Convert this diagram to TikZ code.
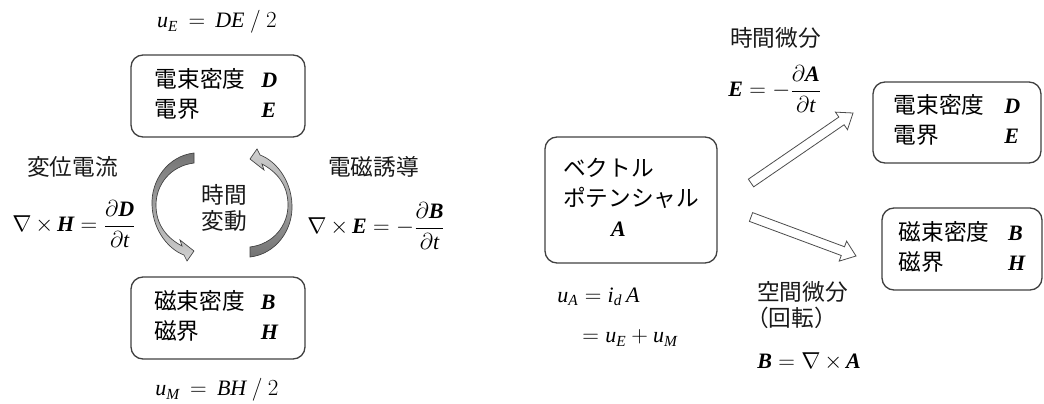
\documentclass[tikz,border=0pt]{standalone}
\usepackage{amsmath}
\usepackage{fontspec}
\setmainfont{Liberation Serif}
\newfontfamily\jp{Noto Sans CJK JP}
\usetikzlibrary{calc}
\newcommand\vi[1]{\text{\itshape #1}}
\newcommand\vb[1]{\text{\bfseries\itshape #1}}
\newcommand\bv[1]{{\normalfont\fontsize{16.5}{18}\selectfont\bfseries\itshape #1}}
\tikzset{
  box/.style={draw=black!75, line width=1pt, rounded corners=9pt, inner sep=0pt, align=left,
              font=\jp\fontsize{17}{22.5}\selectfont},
  jt/.style={font=\jp\fontsize{17}{22.5}\selectfont, inner sep=0pt, text=black!90},
  eq/.style={font=\fontsize{16.5}{20}\selectfont, inner sep=0pt},
  blk/.style={draw=black!70, line width=0.6pt, fill=white, line join=miter},
  curvL/.style={draw=black!75, line width=0.5pt, top color=black!55, bottom color=black!18},
  curvR/.style={draw=black!75, line width=0.5pt, top color=black!18, bottom color=black!55},
}
\begin{document}
\begin{tikzpicture}[x=0.75pt, y=-0.75pt]
\useasboundingbox (0,0) rectangle (1044,403);

% ---------- left diagram ----------
\node[eq] (ue) at (217,22) {$\vi{u}_{\vi{E}}\,=\,\vi{DE}\ /\ 2$};

\node[box, minimum width=130.5pt, minimum height=61.5pt] (de1) at (218,96)
  {\hspace*{-3pt}\begin{tabular}{@{}l@{\hspace{12pt}}l@{}}電束密度 & \bv{D}\\ 電界 & \bv{E}\end{tabular}};
\node[box, minimum width=130.5pt, minimum height=61.5pt] (bh1) at (218,318)
  {\hspace*{-3pt}\begin{tabular}{@{}l@{\hspace{12pt}}l@{}}磁束密度 & \bv{B}\\ 磁界 & \bv{H}\end{tabular}};

\node[eq] (um) at (217,390) {$\vi{u}_{\vi{M}}\,=\,\vi{BH}\ /\ 2$};

\node[jt, anchor=west] (hen) at (27,167) {変位電流};
\node[eq, anchor=west] (ampere) at (12,224) {$\nabla\,{\times}\,\vb{H}=\dfrac{\partial\vb{D}}{\partial\vi{t}}$};
\node[jt, anchor=west] (yudo) at (328,167) {電磁誘導};
\node[eq, anchor=west] (faraday) at (307,226) {$\nabla\,{\times}\,\vb{E}=-\dfrac{\partial\vb{B}}{\partial\vi{t}}$};

\node[jt, align=center, font=\jp\fontsize{17}{19}\selectfont] (jikan) at (224,208) {時間\\変動};

% curved arrows
\path[curvL] (194,153) .. controls (168,156) and (151,180) .. (152,205)
  .. controls (153,232) and (170,250) .. (184,255) -- (187,261) -- (194,251) -- (180,240) -- (182,246)
  .. controls (167,238) and (156,225) .. (156,205)
  .. controls (156,185) and (170,166) .. (194,163) -- cycle;
\path[curvR] (250,257) .. controls (276,254) and (293,230) .. (292,205)
  .. controls (291,178) and (274,160) .. (260,155) -- (257,149) -- (250,159) -- (264,170) -- (262,164)
  .. controls (277,172) and (288,185) .. (288,205)
  .. controls (288,225) and (274,244) .. (250,247) -- cycle;

% ---------- right diagram ----------
\node[jt, anchor=west] (jbun) at (730,38) {時間微分};
\node[eq, anchor=west] (eA) at (728,89) {$\vb{E}=-\dfrac{\partial\vb{A}}{\partial\vi{t}}$};

\node[box, minimum width=126pt, minimum height=60.75pt] (de2) at (957,122.5)
  {\begin{tabular}{@{}l@{\hspace{15pt}}l@{}}電束密度 & \bv{D}\\ 電界 & \bv{E}\end{tabular}};
\node[box, minimum width=129pt, minimum height=94.5pt] (vp) at (631,200)
  {\begin{tabular}{@{}l@{}}ベクトル\\ ポテンシャル\\ \hspace*{36pt}\bv{A}\end{tabular}};
\node[box, minimum width=120pt, minimum height=61.5pt] (bh2) at (962,249)
  {\begin{tabular}{@{}l@{\hspace{14pt}}l@{}}磁束密度 & \bv{B}\\ 磁界 & \bv{H}\end{tabular}};

\node[eq, anchor=west] (ua) at (557,297) {$\vi{u}_{\vi{A}}=\vi{i}_{\vi{d}}\,\vi{A}$};
\node[eq, anchor=west] (ua2) at (582,338) {$=\vi{u}_{\vi{E}}+\vi{u}_{\vi{M}}$};
\node[jt, anchor=west] (kbun) at (757,292) {空間微分};
\node[jt, anchor=west] (kaiten) at (746,318) {（回転）};
\node[eq, anchor=west] (bA) at (757,362) {$\vb{B}=\nabla\,{\times}\,\vb{A}$};

% block arrows
\coordinate (a1) at (751,183);
\coordinate (b1) at (853,113);
\coordinate (a2) at (751,217);
\coordinate (b2) at (856,256);
\foreach \s/\t in {a1/b1, a2/b2}{
  \draw[blk] let \p1=($(\t)-(\s)$), \n1={atan2(\y1,\x1)} in
    ($(\s)+(\n1+90:3.5pt)$) -- ($(\t)!10.5pt!(\s)+(\n1+90:3.5pt)$) -- ($(\t)!10.5pt!(\s)+(\n1+90:8pt)$)
    -- (\t) -- ($(\t)!10.5pt!(\s)+(\n1-90:8pt)$) -- ($(\t)!10.5pt!(\s)+(\n1-90:3.5pt)$)
    -- ($(\s)+(\n1-90:3.5pt)$) -- cycle;
}
\end{tikzpicture}
\end{document}
